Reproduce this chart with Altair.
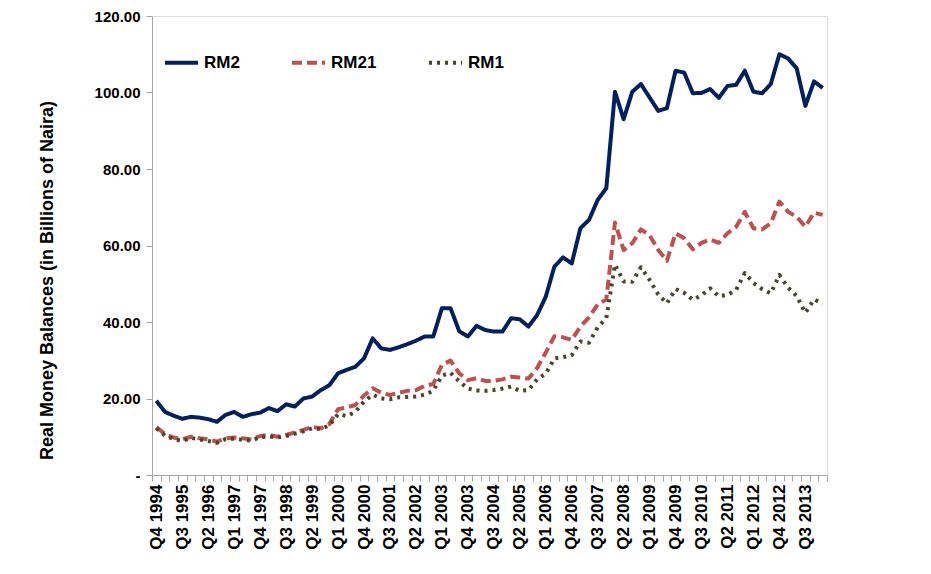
import json
import altair as alt
import pandas as pd

SERIES = ["RM2", "RM21", "RM1"]
COLORS = ["#002060", "#C0504D", "#4A4528"]
DASHES = [[1, 0], [10, 5], [3, 5]]

QUARTERS = []
for year in range(1994, 2015):
    for q in range(1, 5):
        QUARTERS.append(f"Q{q} {year}")
QUARTERS = QUARTERS[3:81]  # Q4 1994 .. Q1 2014

TICK_LABELS = ["Q4 1994", "Q3 1995", "Q2 1996", "Q1 1997", "Q4 1997", "Q3 1998",
               "Q2 1999", "Q1 2000", "Q4 2000", "Q3 2001", "Q2 2002", "Q1 2003",
               "Q4 2003", "Q3 2004", "Q2 2005", "Q1 2006", "Q4 2006", "Q3 2007",
               "Q2 2008", "Q1 2009", "Q4 2009", "Q3 2010", "Q2 2011", "Q1 2012",
               "Q4 2012", "Q3 2013"]

Y_TICKS = [0, 20, 40, 60, 80, 100, 120]

RM2 = [19.4, 16.5, 15.5, 14.7, 15.2, 15.0, 14.6, 13.9, 15.7, 16.5,
       15.2, 15.9, 16.3, 17.5, 16.7, 18.5, 17.9, 20.0, 20.5, 22.2,
       23.5, 26.6, 27.5, 28.3, 30.5, 35.7, 33.1, 32.7, 33.4, 34.2,
       35.1, 36.2, 36.2, 43.6, 43.6, 37.6, 36.2, 39.0, 37.9, 37.5,
       37.5, 41.0, 40.7, 38.8, 41.8, 46.6, 54.5, 56.9, 55.3, 64.5,
       66.7, 71.9, 75.0, 100.2, 93.0, 100.2, 102.2, 98.7, 95.2, 95.9,
       105.7, 105.2, 99.8, 99.9, 100.9, 98.6, 101.7, 102.0, 105.7, 100.2,
       99.8, 102.2, 110.0, 108.9, 106.3, 96.5, 102.9, 101.2]

RM21 = [12.5, 10.7, 9.8, 9.3, 10.0, 9.6, 9.3, 8.7, 9.6, 9.8,
        9.6, 9.3, 10.2, 10.5, 10.0, 10.5, 11.1, 11.8, 12.6, 12.2,
        13.3, 17.2, 17.7, 18.3, 20.8, 22.7, 21.5, 20.9, 21.5, 22.0,
        22.2, 23.3, 23.8, 28.8, 29.9, 26.6, 24.8, 25.3, 24.6, 24.6,
        25.0, 25.7, 25.5, 25.2, 28.0, 32.0, 36.3, 36.0, 35.3, 38.8,
        41.2, 44.6, 45.9, 66.0, 58.8, 60.6, 64.2, 62.7, 58.8, 56.0,
        63.2, 61.9, 59.0, 60.7, 61.6, 60.7, 63.2, 64.9, 68.8, 64.5,
        64.2, 65.8, 71.5, 68.8, 67.5, 64.9, 68.6, 68.0]

RM1 = [12.2, 10.3, 9.4, 8.9, 9.7, 9.3, 8.9, 8.4, 9.4, 9.5,
       9.2, 9.0, 9.9, 10.1, 9.8, 10.2, 10.8, 11.4, 12.2, 12.0,
       13.0, 15.9, 15.4, 16.5, 19.2, 21.0, 20.0, 19.8, 20.3, 20.4,
       20.5, 21.0, 22.0, 26.0, 26.7, 24.5, 22.6, 22.1, 22.0, 22.2,
       22.6, 23.1, 22.0, 22.2, 25.0, 26.5, 30.5, 30.8, 31.3, 34.9,
       34.6, 38.6, 41.0, 55.0, 50.6, 50.5, 54.3, 51.0, 47.2, 44.9,
       48.6, 47.6, 45.8, 47.0, 48.8, 46.7, 47.1, 48.4, 52.8, 50.2,
       48.6, 47.5, 52.3, 49.0, 46.8, 42.4, 45.9, 44.8]

rows = []
for name, vals in zip(SERIES, [RM2, RM21, RM1]):
    for i, (q, v) in enumerate(zip(QUARTERS, vals)):
        rows.append({"quarter": q, "idx": i, "series": name, "value": v})
df = pd.DataFrame(rows)

FONT = "Liberation Sans"

legend = alt.Legend(
    title=None, orient="none", legendX=11, legendY=28, direction="horizontal",
    symbolType="stroke", symbolSize=1089, symbolStrokeWidth=4,
    labelFontSize=17, labelFontWeight="bold", labelFont=FONT, labelColor="#000000",
    columnPadding=44, labelOffset=4,
)

x_label_expr = "indexof(" + json.dumps(TICK_LABELS) + ", datum.label) >= 0 ? datum.label : ''"
y_label_expr = "datum.value == 0 ? '-\u00a0\u00a0\u00a0\u00a0' : format(datum.value, '.2f')"

chart = alt.Chart(df).mark_line(strokeWidth=4, strokeJoin="round").encode(
    x=alt.X("quarter:O", sort=QUARTERS, bandPosition=0.5,
            scale=alt.Scale(type="band", paddingInner=0, paddingOuter=0),
            axis=alt.Axis(title=None, tickBand="extent", labelAngle=-90,
                          labelExpr=x_label_expr, labelOverlap=False,
                          labelFont=FONT, labelFontSize=17, labelFontWeight="bold",
                          labelColor="#000000", labelPadding=3,
                          domainColor="#A6A6A6", tickColor="#A6A6A6", tickSize=6)),
    y=alt.Y("value:Q", scale=alt.Scale(domain=[0, 120], nice=False, zero=True),
            axis=alt.Axis(title="Real Money Balances (in Billions of Naira)",
                          values=Y_TICKS, labelExpr=y_label_expr, grid=False,
                          labelFont=FONT, labelFontSize=15, labelFontWeight="bold",
                          labelColor="#000000", labelPadding=6,
                          titleFont=FONT, titleFontSize=18, titleFontWeight="bold",
                          titleColor="#000000", titleAngle=-90,
                          titleX=-105, titleY=264, titleAlign="center",
                          titleBaseline="middle",
                          domainColor="#A6A6A6", tickColor="#A6A6A6", tickSize=6)),
    color=alt.Color("series:N", sort=SERIES,
                    scale=alt.Scale(domain=SERIES, range=COLORS), legend=legend),
    strokeDash=alt.StrokeDash("series:N", sort=SERIES,
                              scale=alt.Scale(domain=SERIES, range=DASHES), legend=legend),
    order=alt.Order("idx:Q"),
).properties(
    width=675, height=459,
    autosize=alt.AutoSizeParams(type="none"),
    padding={"left": 144, "top": 8, "right": 96, "bottom": 83},
).configure_view(stroke=None).configure(background="#ffffff")

chart.save("out.html", embed_options={"renderer": "svg", "actions": False})
